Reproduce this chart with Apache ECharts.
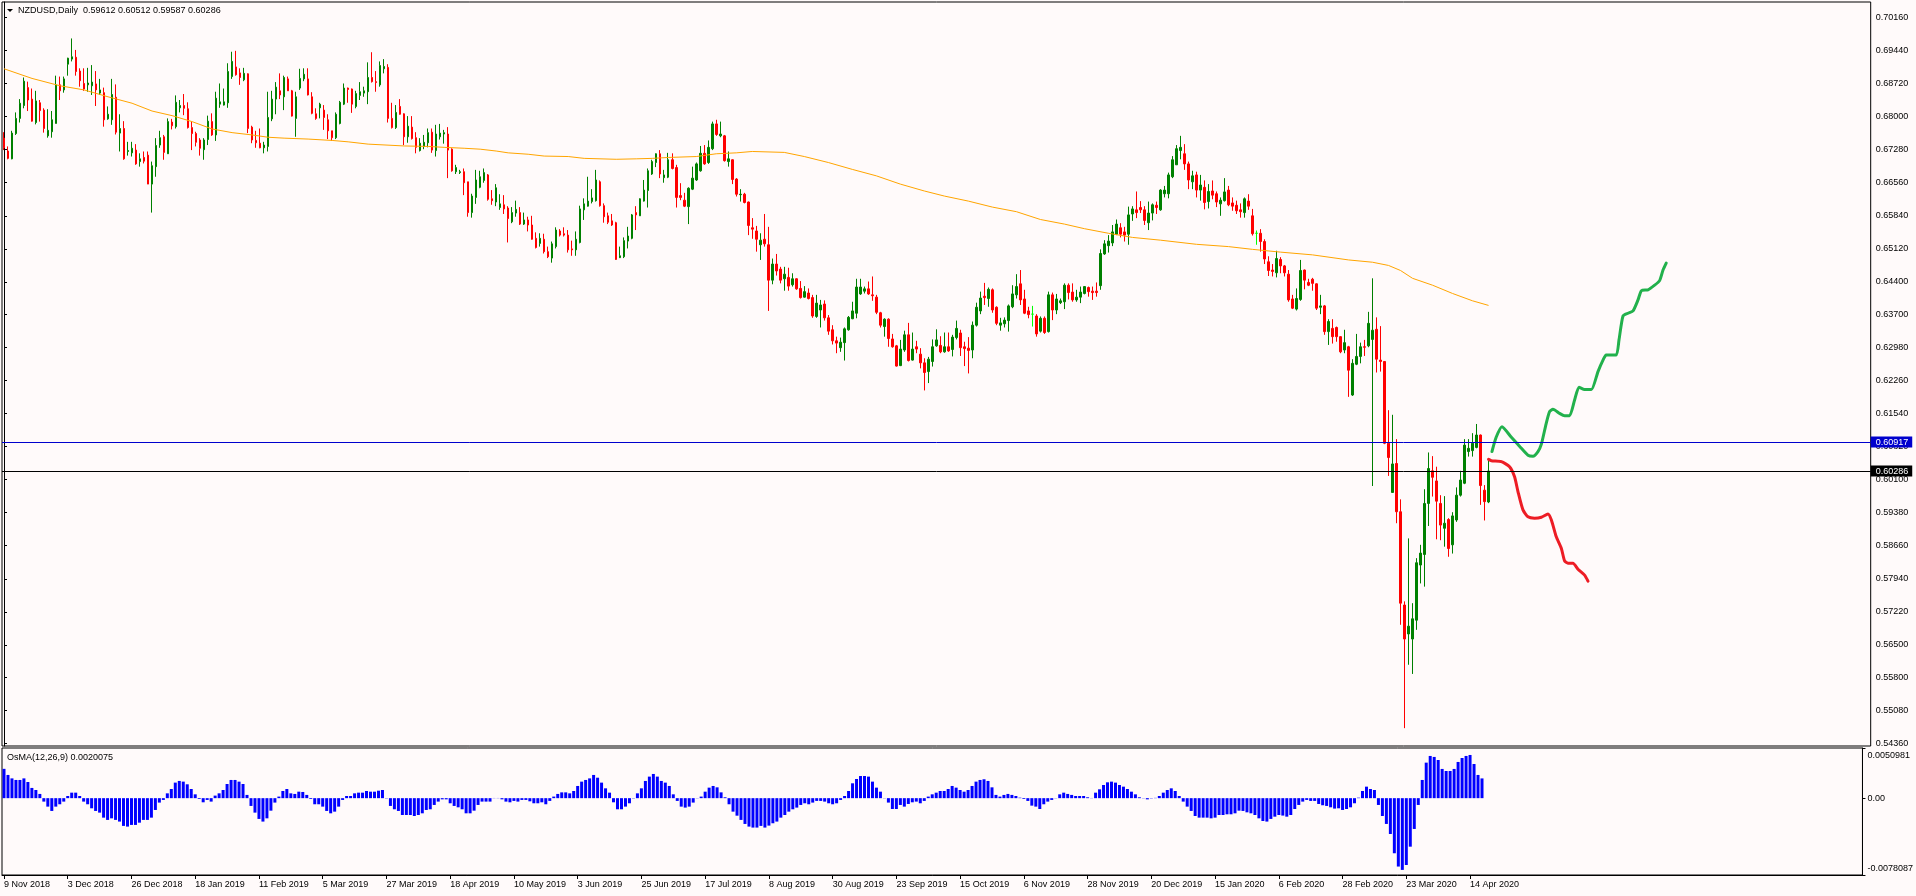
<!DOCTYPE html>
<html><head><meta charset="utf-8">
<script src="https://cdn.jsdelivr.net/npm/echarts/dist/echarts.min.js"></script>
<style>html,body{margin:0;padding:0;background:#FFFAFA}#c{width:1916px;height:896px}</style>
</head><body><div id="c"></div>
<script>
const symbolName = 'NZDUSD,Daily';
const osmaName = 'OsMA(12,26,9)';
const dateTicks = ['9 Nov 2018','3 Dec 2018','26 Dec 2018','18 Jan 2019','11 Feb 2019','5 Mar 2019','27 Mar 2019','18 Apr 2019','10 May 2019','3 Jun 2019','25 Jun 2019','17 Jul 2019','8 Aug 2019','30 Aug 2019','23 Sep 2019','15 Oct 2019','6 Nov 2019','28 Nov 2019','20 Dec 2019','15 Jan 2020','6 Feb 2020','28 Feb 2020','23 Mar 2020','14 Apr 2020'];
const priceTicks = [0.70160,0.69440,0.68720,0.68000,0.67280,0.66560,0.65840,0.65120,0.64400,0.63700,0.62980,0.62260,0.61540,0.60820,0.60100,0.59380,0.58660,0.57940,0.57220,0.56500,0.55800,0.55080,0.54360];
const priceRange = [0.54302, 0.70493];
const osmaRange = [-0.0078087, 0.0050981];
const osmaTickLabels = ['-0.0078087','0.00','0.0050981'];
const hLines = [0.60917, 0.60286];
const hLineColors = ['#0000CD', '#000000'];

const opens = [
.6753,.6725,.6708,.6763,.6796,.6824,.6863,.6838,.6787,.6830,
.6814,.6758,.6767,.6785,.6869,.6858,.6914,.6925,.6929,.6899,
.6872,.6869,.6867,.6871,.6851,.6852,.6795,.6793,.6842,.6764,
.6774,.6724,.6721,.6727,.6702,.6711,.6716,.6653,.6691,.6738,
.6756,.6719,.6788,.6778,.6819,.6824,.6817,.6776,.6763,.6749,
.6728,.6750,.6789,.6760,.6827,.6825,.6830,.6887,.6908,.6895,
.6880,.6893,.6777,.6748,.6742,.6732,.6735,.6795,.6838,.6856,
.6843,.6882,.6856,.6796,.6862,.6882,.6882,.6843,.6806,.6819,
.6814,.6793,.6769,.6754,.6785,.6827,.6862,.6860,.6822,.6846,
.6851,.6854,.6885,.6876,.6869,.6904,.6907,.6796,.6776,.6822,
.6806,.6756,.6777,.6754,.6726,.6735,.6743,.6766,.6726,.6756,
.6762,.6762,.6729,.6680,.6678,.6680,.6658,.6591,.6624,.6646,
.6661,.6673,.6621,.6614,.6602,.6608,.6601,.6571,.6590,.6591,
.6566,.6575,.6564,.6535,.6524,.6533,.6506,.6492,.6517,.6551,
.6545,.6542,.6512,.6510,.6526,.6597,.6605,.6615,.6617,.6658,
.6606,.6584,.6573,.6569,.6493,.6495,.6529,.6535,.6591,.6584,
.6616,.6639,.6675,.6700,.6719,.6667,.6668,.6706,.6689,.6628,
.6618,.6604,.6642,.6662,.6682,.6720,.6700,.6730,.6784,.6758,
.6758,.6702,.6706,.6664,.6630,.6631,.6614,.6558,.6551,.6521,
.6533,.6521,.6444,.6479,.6468,.6447,.6450,.6434,.6447,.6426,
.6407,.6416,.6406,.6365,.6379,.6392,.6362,.6336,.6312,.6297,
.6308,.6336,.6360,.6372,.6414,.6420,.6425,.6412,.6407,.6373,
.6343,.6359,.6316,.6301,.6258,.6292,.6325,.6270,.6299,.6283,
.6264,.6245,.6267,.6301,.6302,.6288,.6299,.6293,.6319,.6329,
.6299,.6296,.6292,.6346,.6377,.6409,.6404,.6423,.6385,.6346,
.6349,.6356,.6386,.6412,.6436,.6403,.6377,.6370,.6366,.6333,
.6361,.6332,.6412,.6379,.6395,.6397,.6433,.6418,.6401,.6407,
.6415,.6428,.6420,.6420,.6432,.6501,.6519,.6525,.6544,.6558,
.6549,.6544,.6588,.6597,.6602,.6597,.6569,.6590,.6607,.6597,
.6632,.6632,.6669,.6695,.6726,.6719,.6697,.6658,.6673,.6640,
.6646,.6615,.6638,.6632,.6610,.6617,.6640,.6612,.6607,.6597,
.6591,.6616,.6584,.6546,.6546,.6528,.6484,.6466,.6460,.6489,
.6475,.6457,.6403,.6381,.6402,.6466,.6439,.6446,.6436,.6385,
.6388,.6332,.6339,.6341,.6321,.6292,.6299,.6194,.6261,.6278,
.6299,.6301,.6315,.6337,.6270,.6267,.6089,.5982,.6045,.5940,
.5737,.5674,.5663,.5704,.5824,.5847,.5958,.6029,.6007,.5958,
.5904,.5923,.5868,.5922,.5976,.6002,.6071,.6073,.6080,.6107,
.5987,.59612];
const highs = [
.6766,.6735,.6769,.6809,.6838,.6885,.6876,.6861,.6856,.6836,
.6818,.6816,.6812,.6889,.6887,.6887,.6928,.6970,.6945,.6905,
.6905,.6906,.6912,.6899,.6882,.6863,.6822,.6882,.6870,.6805,
.6790,.6745,.6745,.6740,.6720,.6724,.6724,.6702,.6753,.6769,
.6760,.6796,.6795,.6846,.6836,.6849,.6831,.6789,.6767,.6753,
.6753,.6802,.6807,.6854,.6872,.6861,.6916,.6941,.6943,.6905,
.6906,.6894,.6780,.6769,.6774,.6745,.6854,.6856,.6875,.6894,
.6889,.6887,.6858,.6854,.6904,.6905,.6905,.6853,.6818,.6830,
.6825,.6805,.6769,.6809,.6834,.6872,.6863,.6861,.6856,.6875,
.6865,.6918,.6940,.6899,.6920,.6925,.6914,.6830,.6825,.6838,
.6807,.6801,.6801,.6766,.6753,.6760,.6774,.6774,.6782,.6784,
.6771,.6777,.6731,.6695,.6684,.6687,.6658,.6632,.6684,.6682,
.6687,.6675,.6640,.6653,.6631,.6629,.6605,.6603,.6617,.6603,
.6591,.6582,.6584,.6548,.6546,.6545,.6517,.6528,.6559,.6555,
.6559,.6553,.6530,.6550,.6606,.6622,.6669,.6642,.6684,.6661,
.6611,.6591,.6588,.6571,.6517,.6537,.6560,.6588,.6605,.6622,
.6662,.6687,.6706,.6720,.6727,.6684,.6721,.6720,.6695,.6655,
.6634,.6646,.6691,.6700,.6736,.6738,.6748,.6789,.6793,.6789,
.6760,.6724,.6707,.6666,.6642,.6634,.6615,.6579,.6562,.6546,
.6588,.6560,.6491,.6501,.6473,.6473,.6471,.6459,.6448,.6442,
.6431,.6426,.6412,.6412,.6401,.6400,.6368,.6346,.6321,.6319,
.6341,.6366,.6397,.6447,.6447,.6430,.6441,.6452,.6412,.6375,
.6361,.6361,.6327,.6303,.6314,.6334,.6351,.6330,.6312,.6296,
.6274,.6277,.6315,.6337,.6322,.6330,.6330,.6325,.6356,.6336,
.6310,.6320,.6354,.6395,.6419,.6438,.6428,.6426,.6387,.6362,
.6363,.6391,.6433,.6457,.6466,.6423,.6386,.6388,.6370,.6365,
.6365,.6419,.6417,.6414,.6404,.6437,.6437,.6437,.6423,.6430,
.6431,.6430,.6430,.6439,.6511,.6531,.6542,.6564,.6576,.6568,
.6560,.6604,.6605,.6637,.6616,.6605,.6615,.6611,.6615,.6642,
.6649,.6678,.6714,.6738,.6758,.6740,.6702,.6682,.6680,.6673,
.6661,.6653,.6661,.6637,.6624,.6666,.6649,.6624,.6617,.6611,
.6624,.6631,.6599,.6552,.6555,.6533,.6496,.6479,.6508,.6494,
.6477,.6466,.6412,.6426,.6488,.6467,.6447,.6449,.6437,.6412,
.6390,.6359,.6359,.6343,.6322,.6336,.6301,.6272,.6327,.6308,
.6314,.6375,.6448,.6363,.6344,.6268,.6161,.6151,.6098,.5967,
.5745,.5882,.5741,.5839,.5868,.5989,.6069,.6061,.6038,.5976,
.5974,.5926,.5939,.5993,.6029,.6098,.6098,.6111,.6131,.6108,
.5998,.60512];
const lows = [
.6727,.6707,.6707,.6760,.6787,.6818,.6812,.6789,.6783,.6789,
.6765,.6754,.6754,.6785,.6836,.6852,.6889,.6920,.6889,.6865,
.6856,.6854,.6847,.6823,.6847,.6778,.6793,.6782,.6761,.6724,
.6706,.6715,.6713,.6695,.6691,.6698,.6653,.6591,.6669,.6732,
.6706,.6719,.6772,.6774,.6809,.6803,.6774,.6727,.6735,.6715,
.6706,.6738,.6758,.6747,.6819,.6824,.6819,.6882,.6889,.6869,
.6877,.6764,.6742,.6732,.6731,.6720,.6724,.6790,.6805,.6838,
.6814,.6856,.6800,.6756,.6858,.6877,.6846,.6805,.6793,.6796,
.6771,.6751,.6747,.6751,.6783,.6825,.6830,.6808,.6818,.6836,
.6843,.6827,.6874,.6854,.6865,.6894,.6787,.6774,.6773,.6804,
.6738,.6743,.6750,.6720,.6724,.6729,.6733,.6721,.6713,.6750,
.6741,.6666,.6680,.6675,.6675,.6629,.6582,.6580,.6610,.6644,
.6656,.6617,.6608,.6605,.6597,.6588,.6526,.6568,.6582,.6564,
.6564,.6550,.6532,.6513,.6517,.6502,.6492,.6482,.6513,.6539,
.6539,.6504,.6497,.6497,.6524,.6575,.6604,.6611,.6615,.6604,
.6569,.6566,.6562,.6488,.6492,.6492,.6513,.6533,.6553,.6584,
.6615,.6602,.6673,.6690,.6666,.6656,.6666,.6685,.6602,.6618,
.6603,.6566,.6640,.6660,.6680,.6695,.6697,.6727,.6758,.6755,
.6702,.6691,.6653,.6626,.6615,.6611,.6542,.6534,.6506,.6488,
.6517,.6377,.6435,.6454,.6437,.6421,.6421,.6430,.6423,.6404,
.6406,.6402,.6362,.6362,.6341,.6356,.6325,.6304,.6285,.6288,
.6269,.6334,.6359,.6361,.6412,.6415,.6412,.6399,.6370,.6341,
.6321,.6299,.6297,.6256,.6257,.6288,.6267,.6269,.6285,.6252,
.6204,.6220,.6256,.6299,.6285,.6286,.6288,.6278,.6315,.6279,
.6257,.6241,.6274,.6343,.6370,.6390,.6386,.6373,.6346,.6334,
.6341,.6332,.6383,.6404,.6390,.6370,.6361,.6343,.6321,.6330,
.6327,.6330,.6357,.6370,.6392,.6381,.6402,.6397,.6397,.6394,
.6413,.6408,.6401,.6408,.6423,.6499,.6504,.6518,.6542,.6537,
.6528,.6521,.6573,.6579,.6590,.6564,.6553,.6574,.6588,.6595,
.6624,.6622,.6666,.6695,.6707,.6684,.6642,.6642,.6624,.6617,
.6598,.6600,.6620,.6603,.6584,.6615,.6605,.6595,.6588,.6580,
.6580,.6597,.6541,.6521,.6506,.6479,.6453,.6452,.6450,.6459,
.6452,.6397,.6381,.6378,.6399,.6424,.6431,.6421,.6379,.6370,
.6325,.6303,.6306,.6310,.6285,.6285,.6190,.6192,.6259,.6263,
.6279,.6298,.5996,.6243,.6245,.6087,.6018,.5982,.5915,.5694,
.5469,.5607,.5587,.5683,.5784,.5777,.5909,.5973,.5880,.5878,
.5864,.5842,.5849,.5918,.5973,.6000,.6060,.6060,.6078,.5955,
.5921,.59587];
const closes = [
.6732,.6709,.6764,.6796,.6829,.6877,.6836,.6790,.6834,.6813,
.6774,.6770,.6793,.6869,.6856,.6882,.6927,.6930,.6898,.6878,
.6860,.6873,.6875,.6858,.6858,.6793,.6805,.6848,.6766,.6774,
.6708,.6726,.6731,.6697,.6708,.6703,.6653,.6693,.6737,.6754,
.6722,.6789,.6780,.6831,.6824,.6818,.6776,.6763,.6744,.6731,
.6749,.6790,.6760,.6840,.6832,.6832,.6898,.6920,.6891,.6885,
.6894,.6774,.6749,.6743,.6732,.6738,.6798,.6838,.6864,.6847,
.6885,.6856,.6801,.6843,.6883,.6892,.6847,.6807,.6796,.6827,
.6798,.6769,.6754,.6805,.6831,.6862,.6859,.6827,.6850,.6854,
.6856,.6885,.6876,.6874,.6911,.6909,.6796,.6776,.6809,.6805,
.6756,.6779,.6752,.6733,.6742,.6744,.6765,.6727,.6762,.6764,
.6765,.6727,.6682,.6689,.6680,.6656,.6591,.6627,.6662,.6669,
.6678,.6620,.6617,.6645,.6610,.6599,.6578,.6591,.6598,.6566,
.6575,.6564,.6533,.6515,.6535,.6506,.6495,.6523,.6553,.6542,
.6542,.6510,.6510,.6533,.6599,.6610,.6616,.6623,.6662,.6606,
.6582,.6570,.6564,.6489,.6497,.6530,.6540,.6586,.6586,.6621,
.6640,.6682,.6702,.6719,.6675,.6673,.6706,.6687,.6624,.6624,
.6605,.6644,.6666,.6697,.6720,.6697,.6733,.6784,.6761,.6762,
.6704,.6708,.6663,.6631,.6631,.6613,.6563,.6555,.6533,.6531,
.6523,.6444,.6479,.6464,.6444,.6457,.6431,.6447,.6425,.6406,
.6419,.6404,.6366,.6394,.6390,.6362,.6333,.6312,.6307,.6309,
.6338,.6363,.6377,.6429,.6429,.6425,.6414,.6410,.6374,.6346,
.6359,.6317,.6299,.6257,.6294,.6325,.6269,.6294,.6294,.6264,
.6243,.6272,.6299,.6314,.6288,.6299,.6290,.6320,.6339,.6297,
.6295,.6291,.6346,.6385,.6405,.6406,.6424,.6379,.6350,.6351,
.6357,.6388,.6414,.6430,.6401,.6372,.6369,.6370,.6327,.6361,
.6330,.6412,.6379,.6403,.6399,.6433,.6417,.6401,.6407,.6418,
.6430,.6419,.6417,.6417,.6502,.6523,.6529,.6549,.6566,.6544,
.6542,.6586,.6599,.6591,.6597,.6574,.6590,.6608,.6602,.6640,
.6640,.6673,.6706,.6730,.6733,.6697,.6662,.6671,.6640,.6651,
.6613,.6637,.6629,.6614,.6618,.6636,.6608,.6605,.6595,.6593,
.6621,.6605,.6545,.6546,.6528,.6490,.6465,.6463,.6491,.6475,
.6460,.6401,.6383,.6404,.6465,.6444,.6433,.6437,.6383,.6388,
.6332,.6354,.6321,.6321,.6288,.6308,.6248,.6263,.6278,.6299,
.6298,.6350,.6335,.6272,.6267,.6089,.6058,.6044,.5940,.5741,
.5663,.5691,.5707,.5829,.5850,.5958,.6034,.6015,.5963,.5911,
.5915,.5860,.5931,.5976,.6009,.6085,.6078,.6089,.6107,.5997,
.5962,.60286];
const osma = [
.00298,.00236,.00201,.00185,.00185,.00201,.00164,.00104,.00083,.00043,
-.00035,-.00086,-.00130,-.00086,-.00062,-.00035,.00022,.00056,.00056,.00022,
-.00035,-.00062,-.00103,-.00130,-.00147,-.00198,-.00221,-.00205,-.00221,-.00238,
-.00282,-.00289,-.00272,-.00272,-.00249,-.00221,-.00221,-.00198,-.00120,-.00045,
-.00018,.00049,.00093,.00158,.00175,.00168,.00141,.00093,.00039,-.00008,
-.00042,-.00018,-.00035,.00026,.00049,.00083,.00144,.00185,.00185,.00168,
.00144,.00033,-.00079,-.00147,-.00211,-.00238,-.00205,-.00127,-.00045,.00016,
.00073,.00093,.00049,.00043,.00066,.00063,.00033,-.00008,-.00062,-.00062,
-.00086,-.00130,-.00154,-.00137,-.00086,-.00018,.00022,.00022,.00049,.00056,
.00056,.00073,.00066,.00066,.00076,.00083,-.00003,-.00079,-.00113,-.00130,
-.00171,-.00171,-.00171,-.00181,-.00171,-.00154,-.00120,-.00113,-.00069,-.00035,
-.00012,-.00012,-.00052,-.00079,-.00093,-.00113,-.00154,-.00154,-.00127,-.00069,
-.00035,-.00035,-.00035,.00002,.00002,-.00012,-.00035,-.00042,-.00028,-.00035,
-.00018,-.00018,-.00032,-.00052,-.00052,-.00042,-.00062,-.00028,.00016,.00043,
.00059,.00059,.00049,.00073,.00124,.00168,.00185,.00201,.00236,.00208,
.00158,.00100,.00056,-.00042,-.00113,-.00113,-.00086,-.00052,-.00003,.00049,
.00100,.00175,.00219,.00246,.00219,.00175,.00158,.00124,.00039,-.00028,
-.00086,-.00096,-.00086,-.00045,-.00002,.00016,.00066,.00107,.00124,.00110,
.00059,.00009,-.00062,-.00137,-.00178,-.00221,-.00262,-.00289,-.00299,-.00299,
-.00282,-.00299,-.00279,-.00255,-.00238,-.00198,-.00171,-.00137,-.00113,-.00096,
-.00069,-.00052,-.00062,-.00045,-.00028,-.00028,-.00035,-.00052,-.00062,-.00052,
-.00018,.00022,.00073,.00151,.00195,.00225,.00225,.00219,.00168,.00107,
.00066,-.00002,-.00045,-.00110,-.00110,-.00069,-.00086,-.00059,-.00042,-.00035,
-.00052,-.00028,.00016,.00039,.00056,.00073,.00073,.00093,.00124,.00107,
.00083,.00066,.00083,.00124,.00168,.00185,.00192,.00175,.00110,.00033,
.00016,.00033,.00043,.00033,.00022,.00005,-.00008,-.00028,-.00076,-.00086,
-.00110,-.00062,-.00035,-.00018,-.00002,.00039,.00056,.00043,.00033,.00022,
.00022,.00022,.00009,.00002,.00056,.00090,.00134,.00161,.00168,.00158,
.00134,.00117,.00093,.00066,.00039,.00009,-.00002,-.00012,-.00003,.00003,
.00022,.00056,.00083,.00100,.00073,.00022,-.00035,-.00086,-.00130,-.00181,
-.00198,-.00198,-.00198,-.00205,-.00198,-.00171,-.00171,-.00164,-.00164,-.00154,
-.00127,-.00130,-.00144,-.00154,-.00171,-.00205,-.00232,-.00238,-.00211,-.00188,
-.00171,-.00177,-.00188,-.00171,-.00110,-.00069,-.00035,-.00018,-.00028,-.00028,
-.00059,-.00072,-.00079,-.00093,-.00106,-.00103,-.00120,-.00110,-.00093,-.00052,
.00005,.00073,.00117,.00093,.00083,-.00069,-.00181,-.00262,-.00364,-.00560,
-.00695,-.00729,-.00679,-.00493,-.00313,-.00069,.00185,.00361,.00429,.00419,
.00388,.00297,.00276,.00276,.00297,.00368,.00408,.00429,.00439,.00347,
.00236,.0020075];
// 200-day moving average, read at sampled bars: [bar index, price]
const ma200 = [[0,.6904],[7,.6883],[14,.6867],[20,.6858],[26,.6843],[32,.6829],[37,.6812],[42,.6802],[47,.6789],[52,.6773],[57,.6765],[62,.6760],[66,.6755],[70,.6753],[76,.6751],[82,.6748],[86,.6745],[91,.6740],[100,.6736],[106,.6735],[110,.6733],[115,.6731],[119,.6729],[123,.6725],[126,.6721],[131,.6718],[135,.6714],[141,.6713],[145,.6709],[153,.6707],[158,.6708],[162,.6709],[166,.6711],[173,.6713],[178,.6719],[183,.6721],[187,.6724],[195,.6722],[200,.6713],[206,.6700],[212,.6685],[218,.6671],[224,.6653],[230,.6638],[235,.6627],[241,.6616],[247,.6603],[253,.6593],[259,.6576],[265,.6566],[270,.6556],[276,.6546],[282,.6537],[289,.6531],[298,.6522],[306,.6517],[312,.6511],[319,.6505],[327,.6499],[336,.6488],[342,.6483],[346,.6476],[349,.6465],[352,.6448],[357,.6433],[362,.6415],[367,.6399],[371,.6389]];
// hand-drawn scenario paths: [bar index, price]
const greenPath = [[371.85,.6071],[372.9,.6102],[374.35,.6125],[376.7,.6102],[379.0,.6080],[380.85,.6063],[382.1,.6061],[383.35,.6071],[384.2,.6087],[385.4,.6132],[386.25,.6158],[387.1,.6163],[388.75,.6154],[390.0,.6149],[391.25,.6149],[392.5,.6183],[393.6,.6211],[395.0,.6206],[396.7,.6206],[398.35,.6245],[399.6,.6270],[400.4,.6281],[402.9,.6281],[403.6,.6314],[404.6,.6366],[405.85,.6372],[407.1,.6377],[408.35,.6401],[409.2,.6421],[410.85,.6423],[412.5,.6433],[413.75,.6443],[414.6,.6466],[415.4,.6481]];
const redPath = [[371.0,.6054],[371.7,.6051],[374.2,.6049],[376.25,.6038],[377.5,.6016],[378.35,.5984],[379.6,.5944],[380.85,.5929],[382.5,.5926],[384.2,.5928],[385.85,.5935],[386.7,.5922],[387.9,.5886],[389.2,.5860],[390.0,.5833],[390.85,.5828],[392.1,.5828],[393.35,.5815],[395.0,.5802],[395.85,.5789]];

const N = 467;
const FONT = 'Liberation Sans';
const cats = Array.from({length: N}, (_, i) => String(i));
const last = closes.length - 1;
const candleData = opens.map((o, i) => {
  const v = [o, closes[i], lows[i], highs[i]];
  return o === closes[i]
    ? {value: v, itemStyle: {color: '#00FF00', color0: '#00FF00', borderColor: '#00FF00', borderColor0: '#00FF00'}}
    : v;
});
const tickOn = (i) => i % 16 === 0 && i <= last;
const span = osmaRange[1] - osmaRange[0];
const osmaLabelVals = [osmaRange[0] + span * 0.053, 0, osmaRange[1] - span * 0.061];
const txt = {fontSize: 9, fontWeight: 'normal', color: '#000', fontFamily: FONT, lineHeight: 11};

const chart = echarts.init(document.getElementById('c'), null, {renderer: 'canvas'});
chart.setOption({
  animation: false,
  backgroundColor: '#FFFAFA',
  textStyle: {fontFamily: FONT},
  title: [
    {text: symbolName + '  ' + [opens, highs, lows, closes].map(a => a[last].toFixed(5)).join(' '), left: 18, top: 5, padding: 0, textStyle: txt},
    {text: osmaName + ' ' + osma[last].toFixed(7), left: 7, top: 752, padding: 0, textStyle: txt}
  ],
  graphic: [{type: 'polygon', shape: {points: [[7, 9], [13, 9], [10, 12]]}, style: {fill: '#000'}}],
  grid: [
    {left: 2, top: 2, width: 1868.7, height: 744, show: true, borderColor: '#000', borderWidth: 1, backgroundColor: 'transparent'},
    {left: 2, top: 748, width: 1868.7, height: 127, show: true, borderColor: '#000', borderWidth: 1, backgroundColor: 'transparent'}
  ],
  xAxis: [
    {type: 'category', gridIndex: 0, data: cats, boundaryGap: true, show: false},
    {type: 'category', gridIndex: 1, data: cats, boundaryGap: true,
     axisLine: {show: true, onZero: false, lineStyle: {color: '#000', width: 1}},
     axisTick: {show: true, alignWithLabel: true, interval: (i) => tickOn(i), length: 4, lineStyle: {color: '#000'}},
     axisLabel: {show: true, interval: (i) => tickOn(i), formatter: (v, i) => dateTicks[i / 16] || '', align: 'left', margin: 5, fontSize: 9, color: '#000', fontFamily: FONT},
     splitLine: {show: false}},
    {type: 'value', gridIndex: 0, min: -0.5, max: N - 0.5, show: false}
  ],
  yAxis: [
    {type: 'value', gridIndex: 0, position: 'right', min: priceRange[0], max: priceRange[1], scale: true,
     splitLine: {show: false},
     axisLine: {show: true, lineStyle: {color: '#000'}},
     axisTick: {show: true, length: 3, customValues: priceTicks, lineStyle: {color: '#000'}},
     axisLabel: {show: true, customValues: priceTicks, formatter: (v) => v.toFixed(5), margin: 5, fontSize: 9, color: '#000', fontFamily: FONT}},
    {type: 'value', gridIndex: 1, position: 'right', min: osmaRange[0], max: osmaRange[1],
     splitLine: {show: false},
     axisLine: {show: true, lineStyle: {color: '#000'}},
     axisTick: {show: true, length: 3, customValues: [osmaRange[0], 0, osmaRange[1]], lineStyle: {color: '#000'}},
     axisLabel: {show: true, customValues: osmaLabelVals, formatter: (v) => (v > 0.001 ? osmaTickLabels[2] : v < -0.001 ? osmaTickLabels[0] : osmaTickLabels[1]), margin: 5, fontSize: 9, color: '#000', fontFamily: FONT}}
  ],
  series: [
    {type: 'candlestick', name: 'NZDUSD', xAxisIndex: 0, yAxisIndex: 0, data: candleData, barWidth: 2,
     itemStyle: {color: '#008000', color0: '#FF0000', borderColor: '#008000', borderColor0: '#FF0000', borderWidth: 1},
     markLine: {symbol: ['none', 'none'], silent: true, animation: false, precision: 5,
       data: hLines.map((v, k) => ({yAxis: v,
         lineStyle: {color: hLineColors[k], width: 1, type: 'solid'},
         label: {show: true, position: 'end', distance: 0, formatter: v.toFixed(5), color: '#fff', backgroundColor: hLineColors[k], padding: [1, 4, 0, 5], fontSize: 9, lineHeight: 10, fontFamily: FONT}}))}},
    {type: 'line', name: 'MA200', xAxisIndex: 2, yAxisIndex: 0, data: ma200, symbol: 'none', lineStyle: {color: '#FFA500', width: 1}},
    {type: 'line', name: 'up', xAxisIndex: 2, yAxisIndex: 0, data: greenPath, symbol: 'none', smooth: 0.2, lineStyle: {color: '#22B14C', width: 3, cap: 'round', join: 'round'}},
    {type: 'line', name: 'down', xAxisIndex: 2, yAxisIndex: 0, data: redPath, symbol: 'none', smooth: 0.2, lineStyle: {color: '#ED1C24', width: 3, cap: 'round', join: 'round'}},
    {type: 'bar', name: 'OsMA', xAxisIndex: 1, yAxisIndex: 1, data: osma, barWidth: 3, itemStyle: {color: '#0000FF'}}
  ]
});
</script></body></html>
